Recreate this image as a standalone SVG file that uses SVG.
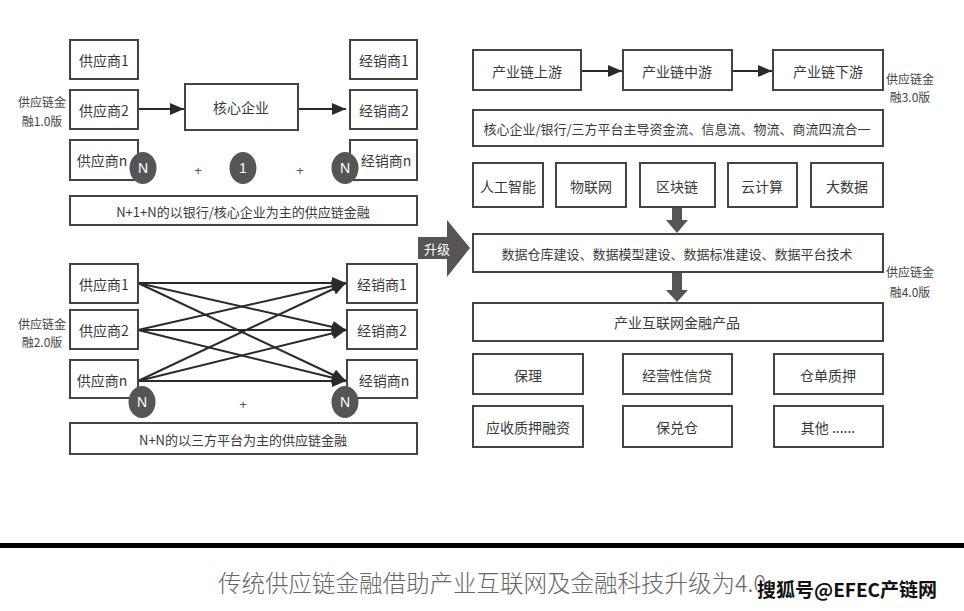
<svg xmlns="http://www.w3.org/2000/svg" width="964" height="611" viewBox="0 0 964 611">
<defs>
<style>
.box{fill:#fff;stroke:#444;stroke-width:2}
.t{font-family:"Noto Sans CJK SC","Liberation Sans",sans-serif;font-size:14px;fill:#3a3a3a;text-anchor:middle;dominant-baseline:central}
.tl{font-size:13px}
.lab{font-family:"Noto Sans CJK SC","Liberation Sans",sans-serif;font-size:12px;fill:#444;text-anchor:middle}
.circ{fill:#555}
.ct{font-family:"Liberation Sans","Noto Sans CJK SC",sans-serif;font-size:14px;fill:#fff;text-anchor:middle;dominant-baseline:central}
.plus{font-family:"Liberation Sans",sans-serif;font-size:13px;fill:#555;text-anchor:middle;dominant-baseline:central}
.ln{stroke:#2a2a2a;stroke-width:2;fill:none}
.big{fill:#555}
</style>
<marker id="ah" viewBox="0 0 14 12" refX="14" refY="6" markerWidth="14" markerHeight="12" markerUnits="userSpaceOnUse" orient="auto">
<path d="M0,0 L14,6 L0,12 z" fill="#2a2a2a"/>
</marker>
</defs>
<rect width="964" height="611" fill="#fff"/>

<!-- connectors -->
<g id="connectors">
<line class="ln" x1="138" y1="109" x2="184" y2="109" marker-end="url(#ah)"/>
<line class="ln" x1="298" y1="109" x2="346" y2="109" marker-end="url(#ah)"/>
<line class="ln" x1="138" y1="283" x2="346" y2="283" marker-end="url(#ah)"/>
<line class="ln" x1="138" y1="283" x2="346" y2="330" marker-end="url(#ah)"/>
<line class="ln" x1="138" y1="283" x2="346" y2="381" marker-end="url(#ah)"/>
<line class="ln" x1="138" y1="330" x2="346" y2="283" marker-end="url(#ah)"/>
<line class="ln" x1="138" y1="330" x2="346" y2="330" marker-end="url(#ah)"/>
<line class="ln" x1="138" y1="330" x2="346" y2="381" marker-end="url(#ah)"/>
<line class="ln" x1="138" y1="381" x2="346" y2="283" marker-end="url(#ah)"/>
<line class="ln" x1="138" y1="381" x2="346" y2="330" marker-end="url(#ah)"/>
<line class="ln" x1="138" y1="381" x2="346" y2="381" marker-end="url(#ah)"/>
<line class="ln" x1="581" y1="71" x2="622" y2="71" marker-end="url(#ah)"/>
<line class="ln" x1="732" y1="71" x2="772" y2="71" marker-end="url(#ah)"/>
<polygon class="big" points="672,207 682,207 682,220 688,220 677,233 666,220 672,220"/>
<polygon class="big" points="672,272 682,272 682,290 688,290 677,302 666,290 672,290"/>
</g>

<!-- 1.0 -->
<g id="v1-label"><text class="lab" x="42" y="107">供应链金</text><text class="lab" x="42" y="126">融1.0版</text></g>
<g id="s1"><rect class="box" x="70" y="40" width="68" height="39"/><text class="t" x="104" y="60">供应商1</text></g>
<g id="s2"><rect class="box" x="70" y="90" width="68" height="39"/><text class="t" x="104" y="110">供应商2</text></g>
<g id="sn"><rect class="box" x="70" y="140" width="68" height="40"/><text class="t" x="102" y="160">供应商n</text></g>
<g id="core"><rect class="box" x="185" y="84" width="113" height="46"/><text class="t" x="241" y="107">核心企业</text></g>
<g id="d1"><rect class="box" x="350" y="40" width="67" height="39"/><text class="t" x="384" y="60">经销商1</text></g>
<g id="d2"><rect class="box" x="350" y="90" width="67" height="39"/><text class="t" x="384" y="110">经销商2</text></g>
<g id="dn"><rect class="box" x="350" y="140" width="67" height="40"/><text class="t" x="386" y="160">经销商n</text></g>
<g id="c1a"><ellipse class="circ" cx="143" cy="168" rx="13.5" ry="16"/><text class="ct" x="143" y="168">N</text></g>
<text class="plus" x="198" y="170">+</text>
<g id="c1b"><ellipse class="circ" cx="243" cy="168" rx="13.5" ry="16"/><text class="ct" x="243" y="168">1</text></g>
<text class="plus" x="300" y="170">+</text>
<g id="c1c"><ellipse class="circ" cx="345" cy="168" rx="13.5" ry="16"/><text class="ct" x="345" y="168">N</text></g>
<g id="v1-bar"><rect class="box" x="70" y="196" width="347" height="29"/><text class="t tl" x="243" y="211">N+1+N的以银行/核心企业为主的供应链金融</text></g>

<!-- 2.0 -->
<g id="v2-label"><text class="lab" x="42" y="329">供应链金</text><text class="lab" x="42" y="347">融2.0版</text></g>
<g id="s1b"><rect class="box" x="70" y="264" width="68" height="39"/><text class="t" x="104" y="284">供应商1</text></g>
<g id="s2b"><rect class="box" x="70" y="310" width="68" height="39"/><text class="t" x="104" y="330">供应商2</text></g>
<g id="snb"><rect class="box" x="70" y="360" width="68" height="38"/><text class="t" x="102" y="380">供应商n</text></g>
<g id="d1b"><rect class="box" x="347" y="264" width="70" height="39"/><text class="t" x="382" y="284">经销商1</text></g>
<g id="d2b"><rect class="box" x="347" y="310" width="70" height="39"/><text class="t" x="382" y="330">经销商2</text></g>
<g id="dnb"><rect class="box" x="347" y="360" width="70" height="38"/><text class="t" x="384" y="380">经销商n</text></g>
<g id="c2a"><ellipse class="circ" cx="142" cy="402" rx="13.5" ry="16"/><text class="ct" x="142" y="402">N</text></g>
<text class="plus" x="243" y="404">+</text>
<g id="c2b"><ellipse class="circ" cx="345" cy="402" rx="13.5" ry="16"/><text class="ct" x="345" y="402">N</text></g>
<g id="v2-bar"><rect class="box" x="70" y="423" width="347" height="31"/><text class="t tl" x="243" y="439">N+N的以三方平台为主的供应链金融</text></g>

<!-- upgrade arrow -->
<g id="upgrade"><polygon class="big" points="418,237 447,237 447,220 470,248 447,277 447,259 418,259"/><text class="ct" style="font-family:'Noto Sans CJK SC',sans-serif;font-size:13px" x="437" y="248">升级</text></g>

<!-- 3.0 -->
<g id="up"><rect class="box" x="473" y="50" width="108" height="40"/><text class="t" x="527" y="71">产业链上游</text></g>
<g id="mid"><rect class="box" x="623" y="50" width="109" height="40"/><text class="t" x="677" y="71">产业链中游</text></g>
<g id="down"><rect class="box" x="773" y="50" width="110" height="40"/><text class="t" x="828" y="71">产业链下游</text></g>
<g id="v3-label"><text class="lab" x="910" y="84">供应链金</text><text class="lab" x="910" y="102">融3.0版</text></g>
<g id="fourflow"><rect class="box" x="473" y="110" width="410" height="36"/><text class="t tl" x="677" y="128">核心企业/银行/三方平台主导资金流、信息流、物流、商流四流合一</text></g>
<g id="ai"><rect class="box" x="473" y="163" width="70" height="44"/><text class="t" x="508" y="186">人工智能</text></g>
<g id="iot"><rect class="box" x="556" y="163" width="70" height="44"/><text class="t" x="591" y="186">物联网</text></g>
<g id="bc"><rect class="box" x="640" y="163" width="75" height="44"/><text class="t" x="677" y="186">区块链</text></g>
<g id="cloud"><rect class="box" x="728" y="163" width="69" height="44"/><text class="t" x="762" y="186">云计算</text></g>
<g id="bigdata"><rect class="box" x="811" y="163" width="72" height="44"/><text class="t" x="847" y="186">大数据</text></g>

<!-- 4.0 -->
<g id="data"><rect class="box" x="473" y="234" width="410" height="38"/><text class="t tl" x="677" y="253">数据仓库建设、数据模型建设、数据标准建设、数据平台技术</text></g>
<g id="v4-label"><text class="lab" x="910" y="277">供应链金</text><text class="lab" x="910" y="297">融4.0版</text></g>
<g id="product"><rect class="box" x="473" y="303" width="410" height="38"/><text class="t" x="677" y="322">产业互联网金融产品</text></g>
<g id="p1"><rect class="box" x="473" y="354" width="110" height="40"/><text class="t" x="528" y="375">保理</text></g>
<g id="p2"><rect class="box" x="623" y="354" width="109" height="40"/><text class="t" x="677" y="375">经营性信贷</text></g>
<g id="p3"><rect class="box" x="774" y="354" width="109" height="40"/><text class="t" x="828" y="375">仓单质押</text></g>
<g id="p4"><rect class="box" x="473" y="406" width="110" height="41"/><text class="t" x="528" y="427">应收质押融资</text></g>
<g id="p5"><rect class="box" x="623" y="406" width="109" height="41"/><text class="t" x="677" y="427">保兑仓</text></g>
<g id="p6"><rect class="box" x="774" y="406" width="109" height="41"/><text class="t" x="828" y="427">其他 ......</text></g>

<!-- caption -->
<rect x="0" y="543" width="964" height="5" fill="#000"/>
<text x="218" y="592" style="font-family:'Noto Sans CJK SC','Liberation Serif',serif;font-size:23.5px;font-weight:300;fill:#666">传统供应链金融借助产业互联网及金融科技升级为4.0</text>
<text x="757" y="597" style="font-family:'Noto Sans CJK SC','Liberation Sans',sans-serif;font-size:19px;font-weight:bold;fill:#111;stroke:#fff;stroke-width:2;paint-order:stroke">搜狐号@EFEC产链网</text>
</svg>
